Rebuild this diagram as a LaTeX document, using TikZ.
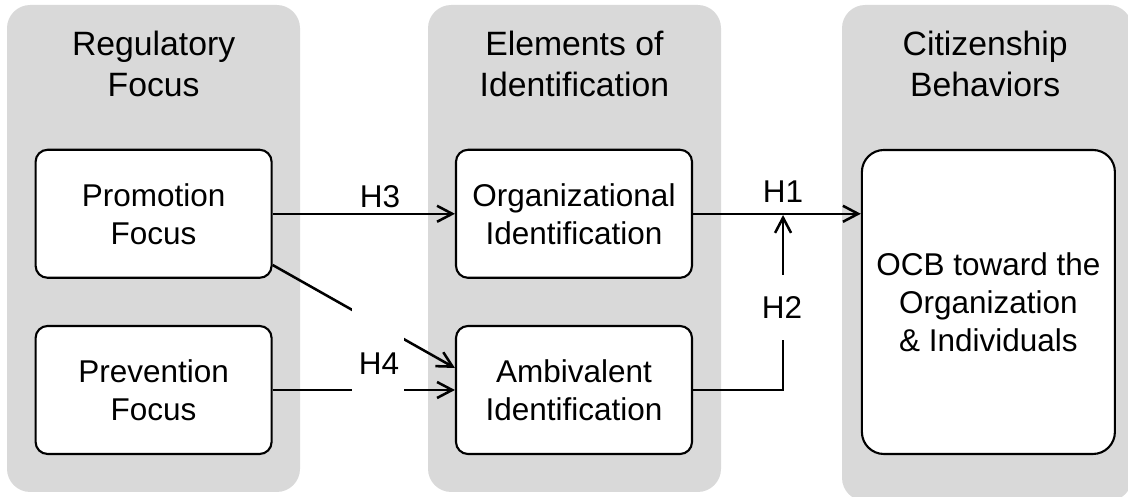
\documentclass[tikz,border=0pt]{standalone}
\usepackage{fontspec}
\setmainfont{Liberation Sans}
\usetikzlibrary{positioning,arrows.meta,calc}

\begin{document}
\begin{tikzpicture}[
  panel/.style={fill=black!15,rounded corners=0.58cm},
  title/.style={align=center,inner sep=0,font=\fontsize{24}{29.5}\selectfont},
  box/.style={draw,line width=1.5pt,fill=white,rounded corners=0.3cm,align=center,
    minimum width=5.9cm,minimum height=3.2cm,font=\fontsize{22.4}{27}\selectfont},
  hlabel/.style={inner sep=0,font=\fontsize{22.4}{27}\selectfont},
  link/.style={line width=1.8pt,-{Straight Barb[length=0.38cm,width=0.4cm]}}
]
  \useasboundingbox (0,0) rectangle (28.2,12.425);
  \clip (0,0) rectangle (28.2,12.425);
  \fill[panel] (0.175,0.125) rectangle (7.5,12.3);
  \fill[panel] (10.7,0.125) rectangle (18.025,12.3);
  \fill[panel] (21.05,-0.1) rectangle (28.3,12.3);
  \node[title] (tReg) at (3.84,10.82) {Regulatory\\Focus};
  \node[title] (tIdent) at (14.36,10.82) {Elements of\\Identification};
  \node[title] (tCit) at (24.63,10.82) {Citizenship\\Behaviors};
  \node[box] (promo) at (3.84,7.08) {Promotion\\Focus};
  \node[box] (prev) at (3.84,2.675) {Prevention\\Focus};
  \node[box] (org) at (14.35,7.08) {Organizational\\Identification};
  \node[box] (amb) at (14.35,2.675) {Ambivalent\\Identification};
  \node[box,minimum width=6.325cm,minimum height=7.6cm,rounded corners=0.55cm] (ocb) at (24.71,4.875) {OCB toward the\\Organization\\\& Individuals};
  \coordinate (junc) at ($(org.east)+(2.25,0)$);
  \draw[link] (promo.east) -- (org.west);
  \draw[link] (org.east) -- (ocb.west |- org.east);
  \draw[link] (prev.east) -- (amb.west);
  \draw[link] ($(promo.east)+(0,-1.28)$) -- ($(amb.west)+(0,0.55)$);
  \draw[link,shorten >=0.03cm] (amb.east) -| (junc);
  \node[fill=white,minimum width=1.3cm,minimum height=2.25cm,inner sep=0] (h4gap) at (9.45,3.675) {};
  \node[hlabel] (h4) at (9.475,3.325) {H4};
  \node[hlabel,fill=white,minimum width=1.2cm,minimum height=1.625cm] (h2) at (19.55,4.74) {H2};
  \node[hlabel] (h3) at (9.5,7.5) {H3};
  \node[hlabel,above=0.275cm of junc] (h1) {H1};
\end{tikzpicture}
\end{document}
